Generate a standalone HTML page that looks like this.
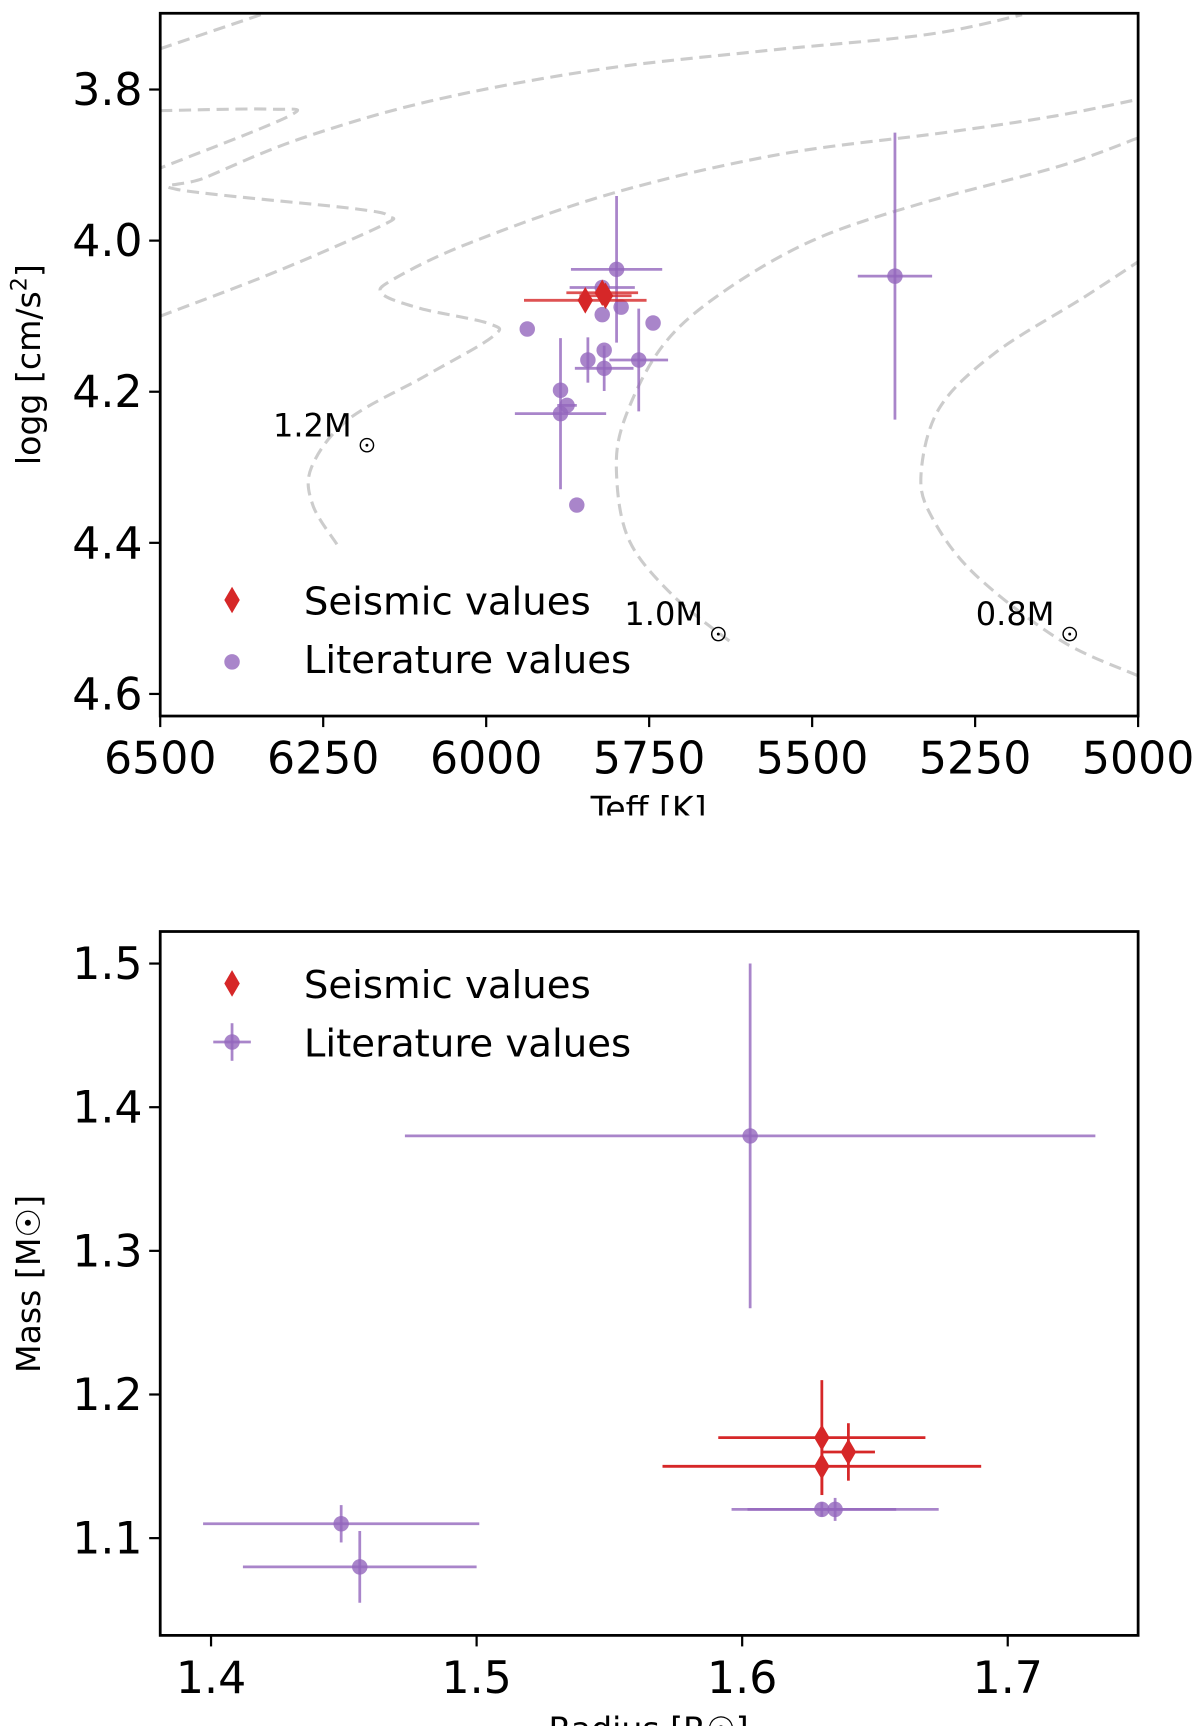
<!DOCTYPE html>
<html><head><meta charset="utf-8">
<style>
html,body{margin:0;padding:0;background:#fff;}
svg{display:block;font-family:"DejaVu Sans","Liberation Sans",sans-serif;}
</style></head>
<body>
<svg id="fig" width="1200" height="1726" viewBox="0 0 1086 1562" xmlns="http://www.w3.org/2000/svg">
  <g id="top"></g>
  <g id="bot"></g>
</svg>
<script>
// ---------- Top panel data (Teff, logg) ----------
const seisTeff = [5848, 5822, 5817];
const seisLogg = [4.079, 4.069, 4.073];
const seisTeffErr = [94, 55, 40];
const seisLoggErr = [0, 0, 0];

const litTeff = [5800, 5822, 5822, 5793, 5937, 5744, 5844, 5819, 5819, 5766, 5886, 5876, 5886, 5861, 5373];
const litLogg = [4.038, 4.062, 4.098, 4.088, 4.117, 4.109, 4.158, 4.145, 4.169, 4.158, 4.198, 4.218, 4.229, 4.350, 4.047];
const litTeffErr = [70, 50, 0, 0, 0, 0, 0, 0, 45, 45, 0, 15, 70, 0, 57];
const litLoggErr = [0.097, 0, 0, 0, 0, 0, 0.03, 0, 0.03, 0.068, 0, 0, 0.1, 0, 0.19];

const teffTicks = [6500, 6250, 6000, 5750, 5500, 5250, 5000];
const loggTicks = [3.8, 4.0, 4.2, 4.4, 4.6];

// evolutionary tracks (Teff, logg pairs)
const trackA = [[6500,4.100],[6322,4.041],[6160,3.980],[6150,3.968],[6200,3.958],[6475,3.932],[6432,3.917],[6288,3.866],[6085,3.815],[5831,3.774],[5576,3.749],[5322,3.727],[5178,3.701]];
const trackB = [[6500,3.828],[6330,3.826],[6302,3.835],[6500,3.904]];
const trackC = [[6500,3.746],[6339,3.699]];
const trackD = [[6229,4.402],[6266,4.350],[6268,4.300],[6212,4.237],[6093,4.179],[5990,4.127],[5995,4.110],[6100,4.090],[6160,4.070],[6140,4.050],[6025,4.003],[5805,3.937],[5551,3.886],[5297,3.857],[5127,3.835],[5000,3.813]];
const trackE = [[5627,4.530],[5712,4.471],[5780,4.398],[5800,4.310],[5788,4.237],[5730,4.140],[5640,4.070],[5500,4.000],[5330,3.950],[5119,3.901],[5000,3.864]];
const trackF = [[5000,4.576],[5119,4.529],[5250,4.442],[5315,4.368],[5333,4.310],[5305,4.222],[5220,4.149],[5085,4.076],[5000,4.028]];
const trackLabels = ["1.2M", "1.0M", "0.8M"];
const labelTeff = [6327, 5788, 5249];
const labelLogg = [4.262, 4.512, 4.512];

// ---------- Bottom panel data (Radius, Mass) ----------
const seisR = [1.630, 1.640, 1.630];
const seisM = [1.17, 1.16, 1.15];
const seisRErr = [0.039, 0.010, 0.060];
const seisMErr = [0.04, 0.02, 0.02];

const litR = [1.603, 1.449, 1.456, 1.630, 1.635];
const litM = [1.38, 1.11, 1.08, 1.12, 1.12];
const litRErr = [0.13, 0.052, 0.044, 0.028, 0.039];
const litMErr = [0.12, 0.013, 0.025, 0.005, 0.008];

const rTicks = [1.4, 1.5, 1.6, 1.7];
const mTicks = [1.1, 1.2, 1.3, 1.4, 1.5];

const NS = "http://www.w3.org/2000/svg";
const RED = "#d62728", PUR = "#9467bd";
function mk(parent, tag, attrs, text){
  const e = document.createElementNS(NS, tag);
  for (const k in attrs) e.setAttribute(k, attrs[k]);
  if (text !== undefined) e.textContent = text;
  parent.appendChild(e);
  return e;
}
function lin(d0,d1,p0,p1){ return v => p0 + (v-d0)/(d1-d0)*(p1-p0); }

const tx = lin(6500, 5000, 145, 1030);
const ty = lin(3.8, 4.6, 81, 628);
const bx = lin(1.4, 1.7, 191, 912);
const by = lin(1.1, 1.5, 1392, 872);

function axesFrame(g, x0, y0, x1, y1){
  const r = mk(g,'rect',{x:x0,y:y0,width:x1-x0,height:y1-y0,fill:'none',stroke:'#000','stroke-width':2.5});
  
  
}
function xTicks(g, ticks, sx, yb, fmt){
  ticks.forEach(t=>{
    const x = sx(t);
    const l = mk(g,'line',{x1:x,x2:x,y1:yb,y2:yb+10,stroke:'#000','stroke-width':2});
    
    
    const tt = mk(g,'text',{x:x,y:yb+52,'font-size':40,'text-anchor':'middle'},fmt(t));
    
    
  });
}
function yTicks(g, ticks, sy, xl, fmt){
  ticks.forEach(t=>{
    const y = sy(t);
    const l = mk(g,'line',{x1:xl-10,x2:xl,y1:y,y2:y,stroke:'#000','stroke-width':2});
    
    
    const tt = mk(g,'text',{x:xl-16,y:y+14,'font-size':40,'text-anchor':'end'},fmt(t));
    
    
  });
}
function errbar(g, x, y, xl, xr, yt, yb2, color, op){
  if (xr > xl) { const a = mk(g,'line',{x1:xl,x2:xr,y1:y,y2:y,stroke:color,'stroke-width':2.5,opacity:op});
      }
  if (yb2 > yt) { const b = mk(g,'line',{x1:x,x2:x,y1:yt,y2:yb2,stroke:color,'stroke-width':2.5,opacity:op});
      }
}
function diamond(g, x, y, name){
  const p = mk(g,'path',{d:`M${x},${y-12} L${x+7},${y} L${x},${y+12} L${x-7},${y} Z`,fill:RED});
  
  
  return p;
}
function dot(g, x, y, name){
  const c = mk(g,'circle',{cx:x,cy:y,r:7,fill:PUR,opacity:0.8});
  
  
  return c;
}
function smoothPath(pts){
  let d = 'M'+pts[0][0].toFixed(1)+','+pts[0][1].toFixed(1);
  for (let i=0;i<pts.length-1;i++){
    const p0 = pts[i-1]||pts[i], p1=pts[i], p2=pts[i+1], p3=pts[i+2]||pts[i+1];
    const c1x = p1[0]+(p2[0]-p0[0])/6, c1y = p1[1]+(p2[1]-p0[1])/6;
    const c2x = p2[0]-(p3[0]-p1[0])/6, c2y = p2[1]-(p3[1]-p1[1])/6;
    d += ` C${c1x.toFixed(1)},${c1y.toFixed(1)} ${c2x.toFixed(1)},${c2y.toFixed(1)} ${p2[0].toFixed(1)},${p2[1].toFixed(1)}`;
  }
  return d;
}

// ===== TOP =====
const T = document.getElementById('top');
const clipT = mk(T,'clipPath',{id:'clipT'});
mk(clipT,'rect',{x:145,y:12,width:885,height:636});
const tracksG = mk(T,'g',{'clip-path':'url(#clipT)'});
[trackA,trackB,trackC,trackD,trackE,trackF].forEach(tr=>{
  const pts = tr.map(p=>[tx(p[0]), ty(p[1])]);
  const p = mk(tracksG,'path',{d:smoothPath(pts),fill:'none',stroke:'#cccccc','stroke-width':2.8,'stroke-dasharray':'11,6'});
  
  
});
trackLabels.forEach((s,i)=>{
  const x = tx(labelTeff[i]), y = ty(labelLogg[i]);
  const t = mk(T,'text',{x:x,y:y-2,'font-size':29},s);
  
  
  mk(T,'circle',{cx:x+85,cy:y+6,r:6,fill:'none',stroke:'#000','stroke-width':1.3});
  mk(T,'circle',{cx:x+85,cy:y+6,r:1.3,fill:'#000'});
});
litTeff.forEach((t,i)=>{
  const x=tx(t), y=ty(litLogg[i]);
  errbar(T, x, y, tx(t+litTeffErr[i]), tx(t-litTeffErr[i]), ty(litLogg[i]-litLoggErr[i]), ty(litLogg[i]+litLoggErr[i]), PUR, 0.8);
});
litTeff.forEach((t,i)=>{ dot(T, tx(t), ty(litLogg[i]), 'literature-point'); });
seisTeff.forEach((t,i)=>{
  const x=tx(t), y=ty(seisLogg[i]);
  errbar(T, x, y, tx(t+seisTeffErr[i]), tx(t-seisTeffErr[i]), ty(seisLogg[i]-seisLoggErr[i]), ty(seisLogg[i]+seisLoggErr[i]), RED, 0.8);
});
seisTeff.forEach((t,i)=>{ diamond(T, tx(t), ty(seisLogg[i]), 'seismic-point'); });
axesFrame(T,145,12,1030,648);
xTicks(T, teffTicks, tx, 648, v=>String(v));
yTicks(T, loggTicks, ty, 145, v=>v.toFixed(1));
const xtT = mk(T,'text',{x:587,y:742,'font-size':30,'text-anchor':'middle'},'Teff [K]');
 
const ytT = mk(T,'text',{x:0,y:0,'font-size':30,'text-anchor':'middle',transform:'translate(36,330) rotate(-90)'});
 
ytT.innerHTML = 'logg [cm/s<tspan dy="-12" font-size="20">2</tspan><tspan dy="12">]</tspan>';
mk(T,'rect',{x:400,y:738,width:400,height:30,fill:'#fff'});
const lg1 = mk(T,'g',{});  
diamond(lg1,210,543,'legend-seismic-marker');
const l1 = mk(lg1,'text',{x:275,y:556,'font-size':35},'Seismic values');
 
dot(lg1,210,599,'legend-literature-marker');
const l2 = mk(lg1,'text',{x:275,y:609,'font-size':35},'Literature values');
 

// ===== BOTTOM =====
const B = document.getElementById('bot');
litR.forEach((r,i)=>{
  errbar(B, bx(r), by(litM[i]), bx(r-litRErr[i]), bx(r+litRErr[i]), by(litM[i]+litMErr[i]), by(litM[i]-litMErr[i]), PUR, 0.8);
});
litR.forEach((r,i)=>{ dot(B, bx(r), by(litM[i]), 'literature-point'); });
seisR.forEach((r,i)=>{
  errbar(B, bx(r), by(seisM[i]), bx(r-seisRErr[i]), bx(r+seisRErr[i]), by(seisM[i]+seisMErr[i]), by(seisM[i]-seisMErr[i]), RED, 1);
});
seisR.forEach((r,i)=>{ diamond(B, bx(r), by(seisM[i]), 'seismic-point'); });
axesFrame(B,145,843,1030,1480);
xTicks(B, rTicks, bx, 1480, v=>v.toFixed(1));
yTicks(B, mTicks, by, 145, v=>v.toFixed(1));
const xtB = mk(B,'text',{x:587,y:1575,'font-size':30,'text-anchor':'middle'},'Radius [R\u2609]');
 
const ytB = mk(B,'text',{x:0,y:0,'font-size':30,'text-anchor':'middle',transform:'translate(36,1162) rotate(-90)'},'Mass [M\u2609]');
 
const lg2 = mk(B,'g',{});  
diamond(lg2,210,890,'legend-seismic-marker');
const m1 = mk(lg2,'text',{x:275,y:903,'font-size':35},'Seismic values');
 
mk(lg2,'line',{x1:193,x2:227,y1:943,y2:943,stroke:PUR,'stroke-width':2.5,opacity:0.8});
mk(lg2,'line',{x1:210,x2:210,y1:926,y2:960,stroke:PUR,'stroke-width':2.5,opacity:0.8});
dot(lg2,210,943,'legend-literature-marker');
const m2 = mk(lg2,'text',{x:275,y:956,'font-size':35},'Literature values');
 
</script>
</body></html>
